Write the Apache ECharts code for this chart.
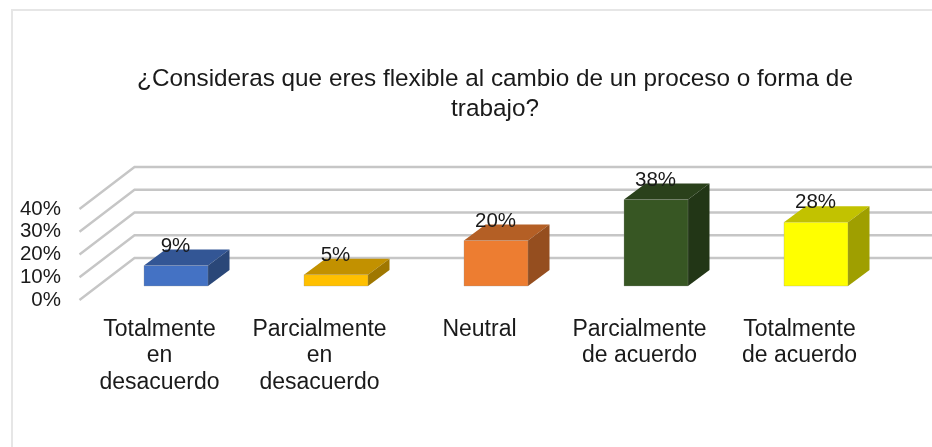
<!DOCTYPE html>
<html><head><meta charset="utf-8">
<style>html,body{margin:0;padding:0;background:#fff}#c{width:932px;height:447px}</style>
<script src="https://cdn.jsdelivr.net/npm/echarts@6/dist/echarts.min.js"></script>
</head><body><div id="c"></div>
<script>
const titleText = '¿Consideras que eres flexible al cambio de un proceso o forma de\ntrabajo?';
const categories = ['Totalmente\nen\ndesacuerdo','Parcialmente\nen\ndesacuerdo','Neutral','Parcialmente\nde acuerdo','Totalmente\nde acuerdo'];
const values = [9,5,20,38,28];
const yTicks = [0,10,20,30,40];
const frontColors = ['#4472C4','#FFC000','#ED7D31','#375623','#FFFF00'];
const topColors = ['#335695','#C29100','#B45F25','#2A411B','#C2C200'];
const sideColors = ['#2A4778','#9F7700','#954E1F','#223616','#9F9F00'];

const depthX = 55, depthY = -42;          // projection of the floor depth
const shiftX = 16.5, shiftY = -14;        // bar position within that depth
const barDepthX = 21.5, barDepthY = -16;
const barHalf = 32;

function gridItem(params, api) {
  const p = api.coord([0, api.value(0)]);
  const x0 = params.coordSys.x, x1 = x0 + params.coordSys.width;
  return { type:'polyline', silent:true,
    shape:{points:[[x0,p[1]],[x0+depthX,p[1]+depthY],[x1+depthX,p[1]+depthY]]},
    style:{stroke:'#C6C6C6',lineWidth:2.4,fill:null} };
}
function barItem(params, api) {
  const i = api.value(0), v = api.value(1);
  const base = api.coord([i,0]), top = api.coord([i,v]);
  const l = base[0]+shiftX-barHalf, r = base[0]+shiftX+barHalf, b = base[1]+shiftY, t = top[1]+shiftY;
  const dx = barDepthX, dy = barDepthY;
  const idx = params.dataIndex;
  return { type:'group', children:[
    {type:'polygon',shape:{points:[[l,t],[r,t],[r+dx,t+dy],[l+dx,t+dy]]},style:{fill:topColors[idx]}},
    {type:'polygon',shape:{points:[[r,t],[r+dx,t+dy],[r+dx,b+dy],[r,b]]},style:{fill:sideColors[idx]}},
    {type:'rect',shape:{x:l,y:t,width:r-l,height:b-t},style:{fill:frontColors[idx],stroke:'rgba(150,150,150,0.6)',lineWidth:0.5}},
    {type:'text',x:(l+r)/2-0.5,y:t+dy-3.5,style:{text:v+'%',font:'20.5px "Liberation Sans"',fill:'#1a1a1a',align:'center',verticalAlign:'middle'}}
  ]};
}
const chart = echarts.init(document.getElementById('c'),null,{renderer:'canvas'});
chart.setOption({
  animation:false,
  backgroundColor:'#fff',
  title:{text:titleText,left:490,top:59,textAlign:'center',
    textStyle:{fontFamily:'Liberation Sans',fontSize:24.3,fontWeight:'normal',color:'#1a1a1a',lineHeight:30}},
  graphic:[
    {type:'polyline',silent:true,shape:{points:[[12,447],[12,10],[932,10]]},style:{stroke:'#E6E6E6',lineWidth:2,fill:null}}
  ],
  grid:{left:79.5,top:209,width:800,height:91,containLabel:false},
  xAxis:{type:'category',data:categories,axisLine:{show:false},axisTick:{show:false},
    axisLabel:{interval:0,margin:16,fontFamily:'Liberation Sans',fontSize:23,color:'#1a1a1a',lineHeight:26.5}},
  yAxis:{type:'value',min:0,max:40,interval:10,splitLine:{show:false},axisLine:{show:false},axisTick:{show:false},
    axisLabel:{margin:18.5,formatter:'{value}%',fontFamily:'Liberation Sans',fontSize:20.5,color:'#1a1a1a',padding:[2,0,0,0]}},
  series:[
    {type:'custom',z:1,clip:false,coordinateSystem:'cartesian2d',renderItem:gridItem,silent:true,
      data:yTicks.map(v=>[v]),encode:{y:0}},
    {type:'custom',z:2,clip:false,coordinateSystem:'cartesian2d',renderItem:barItem,silent:true,
      data:values.map((v,i)=>[i,v]),encode:{x:0,y:1}}
  ]
});
</script></body></html>
